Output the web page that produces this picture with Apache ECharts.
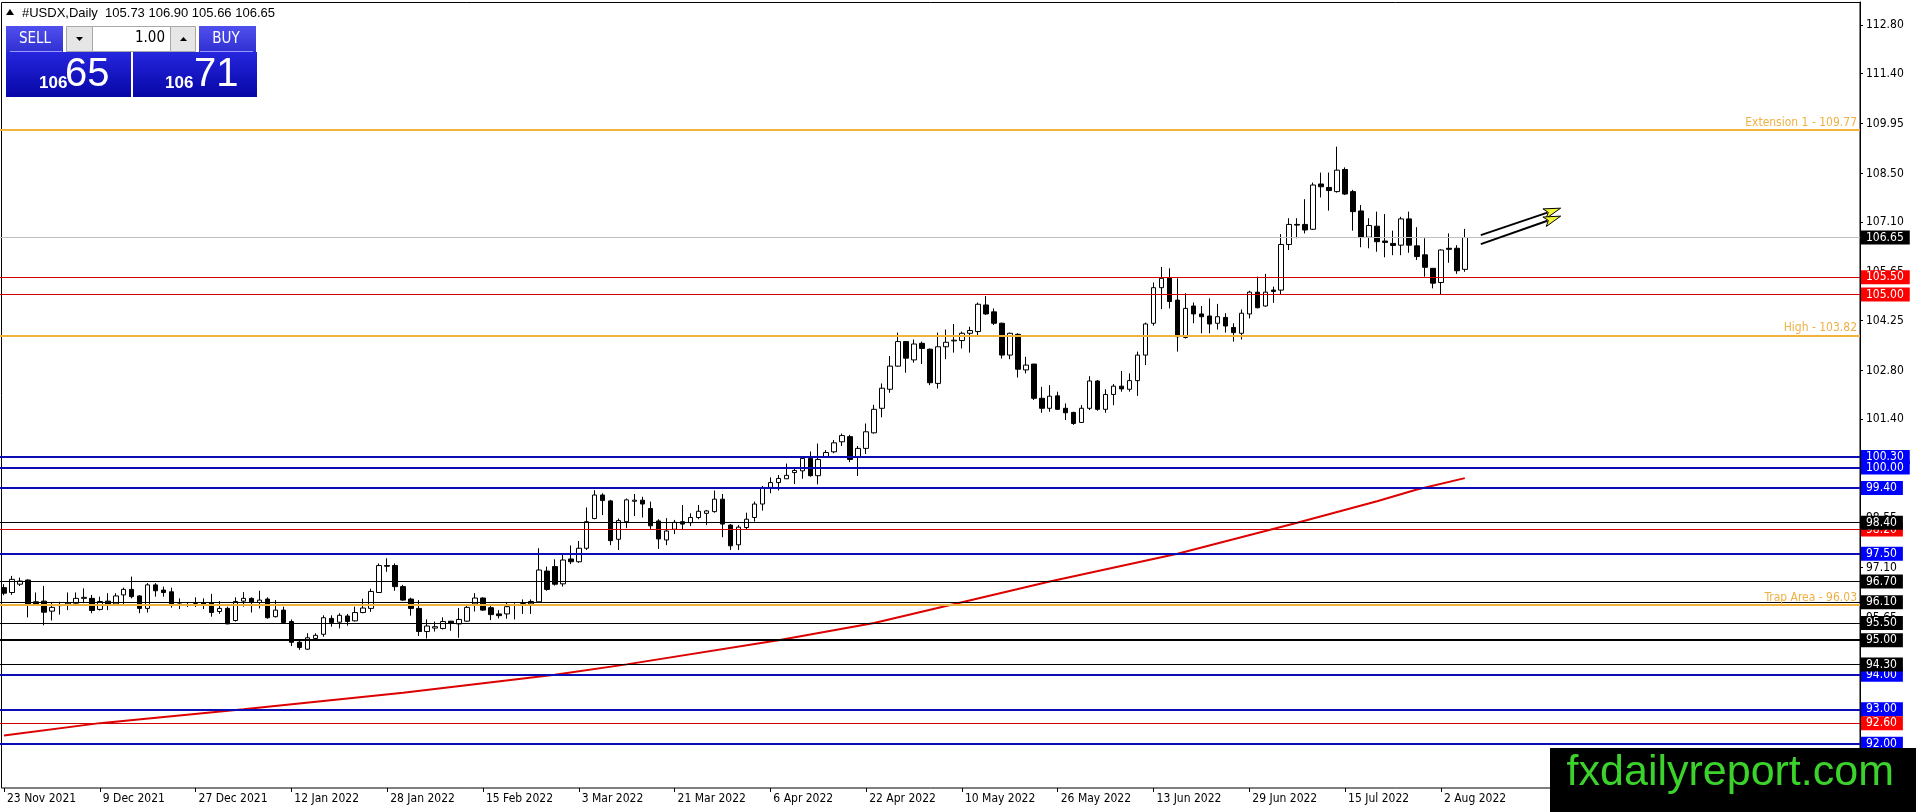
<!DOCTYPE html>
<html><head><meta charset="utf-8">
<script src="https://cdn.jsdelivr.net/npm/echarts@6/dist/echarts.min.js"></script>
<style>html,body{margin:0;padding:0;background:#fff;overflow:hidden}#c{width:1916px;height:812px}</style>
</head><body><div id="c"></div>
<script>
// ---------- DATA ----------
const startDate = '2021-11-23';
const barCount = 184;
const padBars = 49;
const openP = [
96.52,96.38,96.62,96.74,96.11,96.13,95.84,96.00,96.02,96.07,
96.21,96.21,95.89,96.13,96.05,96.31,96.47,96.28,95.92,96.60,
96.45,96.40,96.05,96.03,96.01,96.08,96.09,95.83,95.92,95.57,
96.13,96.21,96.09,96.19,95.68,95.87,95.54,94.94,94.74,95.05,
95.17,95.63,95.52,95.70,95.56,95.80,95.92,96.38,97.16,97.16,
96.55,96.19,95.92,95.25,95.35,95.34,95.55,95.47,95.55,96.05,
96.22,95.94,95.76,95.76,96.03,96.03,96.05,96.11,97.00,97.13,
96.63,97.35,97.27,97.66,98.52,99.20,99.03,97.92,98.43,99.02,
99.05,98.81,98.45,97.90,98.21,98.43,98.40,98.55,98.67,98.72,
99.08,98.33,97.76,98.26,98.55,98.94,99.42,99.56,99.67,99.85,
99.90,100.26,99.76,100.30,100.45,100.74,100.89,100.29,100.55,101.00,
101.71,102.26,102.93,103.64,103.11,103.59,103.42,102.43,103.49,103.66,
103.67,103.88,103.93,104.70,104.50,104.17,103.25,103.85,102.82,102.99,
102.00,101.71,102.07,101.71,101.59,101.30,101.71,102.50,101.68,102.11,
102.35,102.26,102.51,103.25,104.17,105.20,105.47,104.84,103.76,104.67,
104.44,104.38,104.17,104.34,104.05,103.88,104.44,105.07,104.67,105.13,
105.13,106.45,107.03,107.03,106.89,108.20,108.10,107.98,108.62,107.98,
107.42,106.66,106.98,106.55,106.48,106.43,107.19,106.41,106.15,105.76,
105.35,106.34,106.34,105.73];
const highP = [
96.62,96.86,96.81,96.76,96.38,96.57,96.09,96.11,96.38,96.38,
96.50,96.31,96.26,96.36,96.36,96.52,96.84,96.30,96.65,96.65,
96.55,96.52,96.21,96.08,96.24,96.21,96.34,96.13,95.97,96.24,
96.39,96.24,96.43,96.24,96.16,95.97,95.60,95.00,95.20,95.20,
95.72,95.72,95.78,95.76,95.97,96.20,96.49,97.22,97.37,97.22,
96.60,96.23,96.16,95.60,95.54,95.66,95.56,95.93,95.99,96.36,
96.24,95.99,95.87,96.10,96.07,96.18,96.18,97.66,97.13,97.34,
97.51,97.74,97.87,98.84,99.34,99.25,99.06,98.52,99.10,99.23,
99.15,99.01,98.50,98.53,98.48,98.91,98.67,98.91,98.77,99.33,
99.23,98.36,98.33,98.69,99.01,99.46,99.71,99.78,100.11,99.96,
100.33,100.46,100.69,100.50,100.79,100.98,100.94,100.62,101.27,101.81,
102.43,103.22,103.90,103.64,103.70,103.64,103.44,103.90,103.99,104.15,
103.93,104.07,104.77,104.96,104.60,104.19,103.90,103.88,103.20,102.99,
102.33,102.38,102.19,101.85,101.61,101.80,102.64,102.53,102.26,102.41,
102.79,102.72,103.35,104.19,105.35,105.80,105.76,105.47,105.04,104.77,
104.67,104.89,104.73,104.46,104.17,104.57,105.11,105.52,105.60,105.23,
106.75,107.21,107.21,107.76,108.24,108.53,108.53,109.28,108.68,108.03,
107.59,107.21,107.40,107.33,106.85,107.25,107.40,106.95,106.63,105.76,
106.31,106.77,106.43,106.90];
const lowP = [
96.30,96.31,96.57,95.66,96.03,95.43,95.57,95.74,95.87,96.04,
96.07,95.78,95.86,95.87,96.02,96.04,96.21,95.78,95.80,96.26,
96.26,95.94,95.90,95.96,95.96,95.90,95.68,95.76,95.47,95.54,
95.97,95.80,95.92,95.62,95.66,95.49,94.83,94.72,94.72,94.99,
95.10,95.39,95.34,95.42,95.54,95.78,95.82,96.37,96.98,96.43,
96.14,95.71,95.12,95.05,95.25,95.31,95.27,95.07,95.53,95.83,
95.85,95.58,95.63,95.62,95.60,95.76,95.76,96.09,96.43,96.58,
96.55,97.20,97.24,97.61,98.50,98.62,97.75,97.61,98.24,98.59,
98.55,98.22,97.64,97.75,98.07,98.21,98.30,98.50,98.33,98.69,
97.98,97.61,97.61,98.19,98.43,98.75,99.25,99.33,99.67,99.52,
99.67,99.73,99.51,100.27,100.41,100.62,100.15,99.75,100.39,100.98,
101.45,102.16,102.91,102.74,103.03,102.99,102.38,102.28,103.13,103.32,
103.44,103.32,103.83,104.41,104.12,103.15,103.13,102.60,102.72,101.95,
101.58,101.61,101.66,101.37,101.23,101.30,101.66,101.64,101.58,101.80,
102.19,102.19,102.07,102.96,104.10,104.58,104.60,103.35,103.73,104.17,
103.88,103.88,103.99,103.90,103.64,103.70,104.31,104.60,104.65,104.76,
104.99,106.29,106.63,106.77,106.87,107.81,107.43,107.95,107.88,106.85,
106.37,106.34,106.24,106.08,106.14,106.14,106.21,106.00,105.52,105.18,
104.99,105.92,105.60,105.66];
const closeP = [
96.36,96.76,96.71,96.05,96.05,95.81,95.95,96.02,96.07,96.21,
96.24,95.86,96.12,96.02,96.28,96.47,96.26,95.92,96.60,96.43,
96.38,96.05,96.03,96.01,96.06,96.05,95.80,95.92,95.47,96.12,
96.21,96.09,96.16,95.65,95.87,95.51,94.94,94.79,95.07,95.14,
95.65,95.51,95.72,95.54,95.80,95.93,96.41,97.16,97.14,96.55,
96.16,95.92,95.25,95.41,95.39,95.54,95.49,95.60,95.95,96.22,
95.87,95.74,95.71,95.97,96.01,96.06,96.12,97.03,96.47,96.62,
97.32,97.27,97.66,98.43,99.20,99.04,97.88,98.46,99.06,99.05,
98.94,98.31,97.93,98.16,98.41,98.36,98.55,98.73,98.74,99.08,
98.36,97.73,98.27,98.50,98.94,99.42,99.56,99.68,99.77,99.91,
100.26,99.76,100.23,100.43,100.71,100.92,100.23,100.55,101.03,101.68,
102.29,102.93,103.64,103.16,103.57,103.44,102.45,103.49,103.62,103.68,
103.88,103.96,104.72,104.44,104.17,103.25,103.88,102.84,102.96,102.00,
101.71,102.06,101.68,101.58,101.27,101.71,102.50,101.68,102.11,102.35,
102.27,102.51,103.25,104.15,105.20,105.47,104.80,103.78,104.60,104.44,
104.36,104.15,104.36,104.09,103.90,104.46,105.07,104.62,105.07,105.09,
106.45,107.03,107.01,106.87,108.17,108.12,108.01,108.60,107.91,107.40,
106.65,107.00,106.53,106.51,106.42,107.19,106.43,106.10,105.79,105.33,
106.29,106.31,105.69,106.65];

// moving average, read at sample bars
const maBars   = [0, 12, 30, 50, 69, 78, 97, 109, 120, 131, 147, 162, 172, 177, 183];
const maValues = [92.24, 92.60, 93.00, 93.48, 94.00, 94.30, 95.00, 95.50, 96.10, 96.70, 97.50, 98.40, 99.02, 99.36, 99.69];

// price-axis tick labels
const yTicks = [112.80, 111.40, 109.95, 108.50, 107.10, 105.65, 104.25, 102.80, 101.40, 99.95, 98.55, 97.10, 95.65, 94.25, 92.80, 91.40];

// horizontal levels (drawing order = stacking order of labels)
const levelPrices = [109.77, 106.65, 105.50, 105.00, 103.82, 100.30, 100.00, 99.40, 98.20, 98.40, 97.50, 96.70, 96.03, 96.10, 95.50, 95.00, 94.00, 94.30, 93.00, 92.60, 92.00];
const levelTexts  = ['Extension 1 - 109.77','106.65','105.50','105.00','High - 103.82','100.30','100.00','99.40','98.20','98.40','97.50','96.70','Trap Area - 96.03','96.10','95.50','95.00','94.00','94.30','93.00','92.60','92.00'];
const levelKinds  = ['gold','grey','red','red','gold','blue','blue','blue','red','black','blue','black','gold','black','black','blackBold','blue','black','blue','red','blue'];

// arrows drawn on chart (bar index, price)
const arrowFrom = [[185, 106.72], [185, 106.46]];
const arrowTo   = [[195, 107.50], [195, 107.27]];

// ---------- BUILD ----------
const MONTHS = ['Jan','Feb','Mar','Apr','May','Jun','Jul','Aug','Sep','Oct','Nov','Dec'];
const dates = [];
(function(){
  const d = new Date(startDate + 'T00:00:00Z');
  while (dates.length < barCount) {
    const wd = d.getUTCDay();
    if (wd !== 0 && wd !== 6) dates.push(d.getUTCDate() + ' ' + MONTHS[d.getUTCMonth()] + ' ' + d.getUTCFullYear());
    d.setUTCDate(d.getUTCDate() + 1);
  }
})();
const categories = dates.slice();
for (let i = 0; i < padBars; i++) categories.push('pad' + i);

const candleData = openP.map((o, i) => [o, closeP[i], lowP[i], highP[i]]);
const maData = maBars.map((b, i) => [b, maValues[i]]);

const FONT = "'DejaVu Sans Condensed','Liberation Sans',sans-serif";
const STYLE = {
  gold:      {line: '#f2b33d', width: 2},
  grey:      {line: '#c0c0c0', width: 1, bg: '#000000'},
  red:       {line: '#d40000', width: 1, bg: '#ff0000'},
  blue:      {line: '#0c0cb4', width: 2, bg: '#0000ff'},
  black:     {line: '#000000', width: 1, bg: '#000000'},
  blackBold: {line: '#000000', width: 2, bg: '#000000'}
};
const markData = levelPrices.map((p, i) => {
  const st = STYLE[levelKinds[i]];
  const item = {yAxis: p, lineStyle: {color: st.line, width: st.width, type: 'solid'}};
  if (levelKinds[i] === 'gold') {
    item.label = {show: true, position: 'insideEndTop', formatter: levelTexts[i], color: '#f0b044',
      fontSize: 12, fontFamily: FONT, distance: [3, 1]};
  } else {
    item.label = {show: true, position: 'end', formatter: levelTexts[i], color: '#ffffff',
      backgroundColor: st.bg, padding: [1, 6, 0, 5], lineHeight: 13, fontSize: 12, fontFamily: FONT, distance: 1};
  }
  return item;
});

const labelShown = (idx) => idx < barCount && idx % 12 === 0;

const chart = echarts.init(document.getElementById('c'), null, {renderer: 'canvas'});
chart.setOption({
  animation: false,
  backgroundColor: '#ffffff',
  grid: {left: -0.5, right: 56, top: 2, bottom: 24},
  xAxis: {
    type: 'category', data: categories, boundaryGap: true,
    axisLine: {show: false},
    axisTick: {show: true, interval: labelShown, alignWithLabel: true, length: 4, lineStyle: {color: '#000'}},
    axisLabel: {interval: labelShown, align: 'left', margin: 5, padding: [0, 0, 0, 3], color: '#000',
      fontSize: 12, fontFamily: FONT, hideOverlap: false},
    splitLine: {show: false}
  },
  yAxis: {
    type: 'value', position: 'right', min: 90.723, max: 113.466,
    axisLine: {show: true, lineStyle: {color: '#000', width: 1}},
    axisTick: {show: true, customValues: yTicks, length: 3, lineStyle: {color: '#000'}},
    axisLabel: {customValues: yTicks, formatter: v => v.toFixed(2), margin: 6, color: '#000', fontSize: 12, fontFamily: FONT},
    splitLine: {show: false}
  },
  series: [
    {
      type: 'line', data: maData, showSymbol: false, symbol: 'none', connectNulls: true, silent: true,
      lineStyle: {color: '#dd0000', width: 2}, z: 2
    },
    {
      type: 'candlestick', data: candleData, barWidth: 5, silent: true, z: 3,
      itemStyle: {color: '#ffffff', color0: '#000000', borderColor: '#000000', borderColor0: '#000000', borderWidth: 1},
      markLine: {silent: true, symbol: ['none', 'none'], animation: false, data: markData}
    }
  ]
});

// ---------- DECORATION ----------
const LG = (c0, c1) => new echarts.graphic.LinearGradient(0, 0, 0, 1, [{offset: 0, color: c0}, {offset: 1, color: c1}]);
const g = [];
g.push({type: 'rect', silent: true, z: 1, shape: {x: 1.5, y: 2.5, width: 1858.5, height: 785.5}, style: {fill: 'none', stroke: '#000', lineWidth: 1}});
// header
g.push({type: 'polygon', z: 20, shape: {points: [[6, 15], [10, 9], [14, 15]]}, style: {fill: '#000'}});
g.push({type: 'text', z: 20, x: 22, y: 13, style: {text: '#USDX,Daily  105.73 106.90 105.66 106.65', font: "13px 'Liberation Sans', sans-serif", fill: '#000', verticalAlign: 'middle'}});
// trade panel
g.push({type: 'rect', z: 20, shape: {x: 6, y: 26, width: 57, height: 26}, style: {fill: LG('#5050ee', '#3030d2')}});
g.push({type: 'text', z: 21, x: 35, y: 39, style: {text: 'SELL', font: "15px 'DejaVu Sans Condensed','Liberation Sans',sans-serif", fill: '#fff', align: 'center', verticalAlign: 'middle'}});
g.push({type: 'rect', z: 20, shape: {x: 66.5, y: 26.5, width: 26, height: 25}, style: {fill: '#e6e6e6', stroke: '#a8a8a8', lineWidth: 1}});
g.push({type: 'polygon', z: 21, shape: {points: [[76, 37], [83, 37], [79.5, 41]]}, style: {fill: '#000'}});
g.push({type: 'rect', z: 20, shape: {x: 92.5, y: 26.5, width: 78, height: 25}, style: {fill: '#fff', stroke: '#a8a8a8', lineWidth: 1}});
g.push({type: 'text', z: 21, x: 165, y: 38, style: {text: '1.00', font: "15px 'DejaVu Sans Condensed','Liberation Sans',sans-serif", fill: '#000', align: 'right', verticalAlign: 'middle'}});
g.push({type: 'rect', z: 20, shape: {x: 170.5, y: 26.5, width: 25, height: 25}, style: {fill: '#e6e6e6', stroke: '#a8a8a8', lineWidth: 1}});
g.push({type: 'polygon', z: 21, shape: {points: [[180, 41], [187, 41], [183.5, 37]]}, style: {fill: '#000'}});
g.push({type: 'rect', z: 20, shape: {x: 199, y: 26, width: 57, height: 26}, style: {fill: LG('#5050ee', '#3030d2')}});
g.push({type: 'text', z: 21, x: 226, y: 39, style: {text: 'BUY', font: "15px 'DejaVu Sans Condensed','Liberation Sans',sans-serif", fill: '#fff', align: 'center', verticalAlign: 'middle'}});
g.push({type: 'line', z: 21, shape: {x1: 10, y1: 51.5, x2: 62, y2: 51.5}, style: {stroke: '#9a9aff', lineWidth: 1}});
g.push({type: 'line', z: 21, shape: {x1: 200, y1: 51.5, x2: 253, y2: 51.5}, style: {stroke: '#9a9aff', lineWidth: 1}});
g.push({type: 'rect', z: 20, shape: {x: 6, y: 52, width: 125, height: 45}, style: {fill: LG('#2626de', '#0606a6')}});
g.push({type: 'rect', z: 20, shape: {x: 133, y: 52, width: 124, height: 45}, style: {fill: LG('#2626de', '#0606a6')}});
g.push({type: 'text', z: 21, x: 39, y: 83, style: {text: '106', font: "bold 17px 'Liberation Sans', sans-serif", fill: '#fff', verticalAlign: 'middle'}});
g.push({type: 'text', z: 21, x: 65, y: 75, style: {text: '65', font: "40px 'Liberation Sans', sans-serif", fill: '#fff', verticalAlign: 'middle'}});
g.push({type: 'text', z: 21, x: 165, y: 83, style: {text: '106', font: "bold 17px 'Liberation Sans', sans-serif", fill: '#fff', verticalAlign: 'middle'}});
g.push({type: 'text', z: 21, x: 194, y: 75, style: {text: '71', font: "40px 'Liberation Sans', sans-serif", fill: '#fff', verticalAlign: 'middle'}});
// arrows
arrowFrom.forEach((a, i) => {
  const s = chart.convertToPixel({xAxisIndex: 0, yAxisIndex: 0}, a);
  const t = chart.convertToPixel({xAxisIndex: 0, yAxisIndex: 0}, arrowTo[i]);
  const dx = t[0] - s[0], dy = t[1] - s[1], L = Math.hypot(dx, dy);
  const ux = dx / L, uy = dy / L, px = -uy, py = ux;
  const bx = t[0] - 17 * ux, by = t[1] - 17 * uy;
  g.push({type: 'line', z: 30, shape: {x1: s[0], y1: s[1], x2: bx + 3 * ux, y2: by + 3 * uy}, style: {stroke: '#000', lineWidth: 2}});
  g.push({type: 'polygon', z: 31, shape: {points: [[t[0], t[1]], [bx + 5 * px, by + 5 * py], [bx + 4 * ux, by + 4 * uy], [bx - 5 * px, by - 5 * py]]},
    style: {fill: '#f4f438', stroke: '#000', lineWidth: 1}});
});
// watermark
g.push({type: 'rect', z: 50, shape: {x: 1550, y: 748, width: 366, height: 64}, style: {fill: '#000'}});
g.push({type: 'text', z: 51, x: 1894, y: 773, style: {text: 'fxdailyreport.com', font: "43px 'Liberation Sans', sans-serif", fill: '#3cd22c', align: 'right', verticalAlign: 'middle'}});

chart.setOption({graphic: g});
</script>
</body></html>
